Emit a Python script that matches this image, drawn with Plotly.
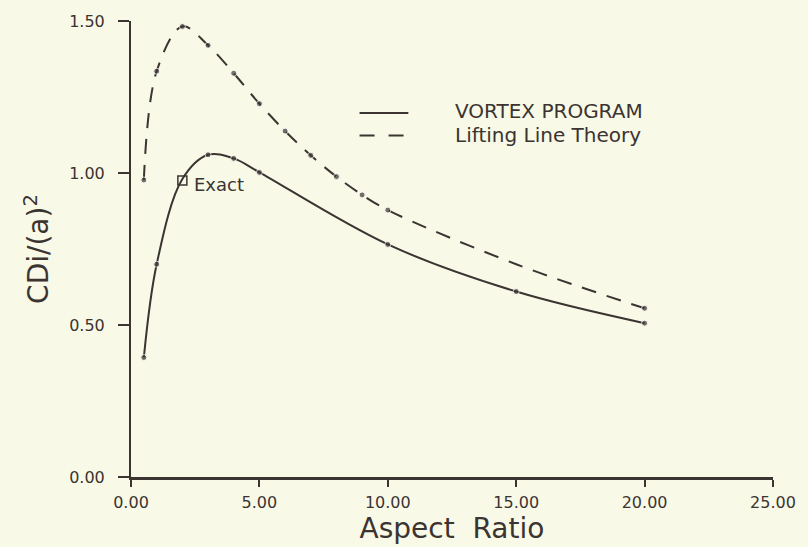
import plotly.graph_objects as go

# ---- data ----
ar_lifting = [0.5, 1, 2, 3, 4, 5, 6, 7, 8, 9, 10, 15, 20]
cdi_lifting = [0.977, 1.335, 1.482, 1.42, 1.328, 1.228, 1.138, 1.058, 0.988, 0.928, 0.878, 0.70, 0.555]
lifting_marker = [6, 6, 6, 6, 6, 6, 6, 6, 6, 6, 6, 0, 6]

ar_vortex = [0.5, 1, 2, 3, 4, 5, 10, 15, 20]
cdi_vortex = [0.393, 0.70, 0.98, 1.06, 1.048, 1.002, 0.765, 0.61, 0.506]
vortex_marker = [6, 6, 0, 6, 6, 6, 6, 6, 6]

exact_x = [2.0]
exact_y = [0.975]

x_ticks = [0, 5, 10, 15, 20, 25]
x_tick_labels = ["0.00", "5.00", "10.00", "15.00", "20.00", "25.00"]
y_ticks = [0, 0.5, 1.0, 1.5]
y_tick_labels = ["0.00", "0.50", "1.00", "1.50"]

x_title = "Aspect  Ratio"
y_title = "CDi/(a)<sup>2</sup>"

INK = "#3b3431"
BG = "#f9f9e8"
FONT = "'DejaVu Sans', sans-serif"

fig = go.Figure()

fig.add_trace(go.Scatter(
    x=ar_lifting, y=cdi_lifting, mode="lines+markers",
    line=dict(color=INK, width=2, dash="15px,11px", shape="spline", smoothing=1.0),
    marker=dict(color=INK, size=lifting_marker),
    name="Lifting Line Theory", showlegend=False,
))
fig.add_trace(go.Scatter(
    x=ar_vortex, y=cdi_vortex, mode="lines+markers",
    line=dict(color=INK, width=2, shape="spline", smoothing=1.0),
    marker=dict(color=INK, size=vortex_marker),
    name="VORTEX PROGRAM", showlegend=False,
))
fig.add_trace(go.Scatter(
    x=exact_x, y=exact_y, mode="markers",
    marker=dict(symbol="square-open", size=9, color=INK, line=dict(width=1.5, color=INK)),
    name="Exact", showlegend=False,
))

fig.add_annotation(x=exact_x[0], y=exact_y[0], text="Exact", showarrow=False,
                   xanchor="left", yanchor="middle", xshift=10, yshift=-4,
                   font=dict(family=FONT, size=18, color=INK))

# legend (drawn manually to match the reference layout)
fig.add_shape(type="line", xref="paper", yref="paper", x0=0.356, x1=0.432, y0=0.798, y1=0.798,
              line=dict(color=INK, width=2))
fig.add_shape(type="line", xref="paper", yref="paper", x0=0.356, x1=0.432, y0=0.749, y1=0.749,
              line=dict(color=INK, width=2, dash="15px,14px"))
fig.add_annotation(xref="paper", yref="paper", x=0.501, y=0.803, text="VORTEX PROGRAM",
                   showarrow=False, xanchor="left", yanchor="middle",
                   font=dict(family=FONT, size=20, color=INK))
fig.add_annotation(xref="paper", yref="paper", x=0.501, y=0.751, text="Lifting Line Theory",
                   showarrow=False, xanchor="left", yanchor="middle",
                   font=dict(family=FONT, size=20, color=INK))

fig.update_layout(
    width=808, height=547,
    margin=dict(l=131, r=26, t=15, b=70),
    paper_bgcolor=BG, plot_bgcolor=BG,
    font=dict(family=FONT, color=INK),
    xaxis=dict(
        range=[0, 25], tickvals=x_ticks, ticktext=x_tick_labels,
        showgrid=False, zeroline=False, showline=True, linecolor=INK, linewidth=2.5,
        ticks="outside", ticklen=7, tickwidth=1.5, tickcolor=INK,
        ticklabelstandoff=2,
        tickfont=dict(family=FONT, size=16, color=INK),
        title=dict(text=x_title, font=dict(family=FONT, size=28, color=INK), standoff=0),
    ),
    yaxis=dict(
        range=[0, 1.5], tickvals=y_ticks, ticktext=y_tick_labels,
        showgrid=False, zeroline=False, showline=True, linecolor=INK, linewidth=2,
        ticks="outside", ticklen=11, tickwidth=2, tickcolor=INK,
        ticklabelstandoff=10,
        tickfont=dict(family=FONT, size=16, color=INK),
        title=dict(text=y_title, font=dict(family=FONT, size=28, color=INK), standoff=12),
    ),
)

# remove the browser's default page margin so the 808x547 figure fills the window exactly
fig.write_html("out.html",
               config={"displayModeBar": False},
               post_script="document.body.style.margin='0';document.body.style.background='%s';" % BG)
